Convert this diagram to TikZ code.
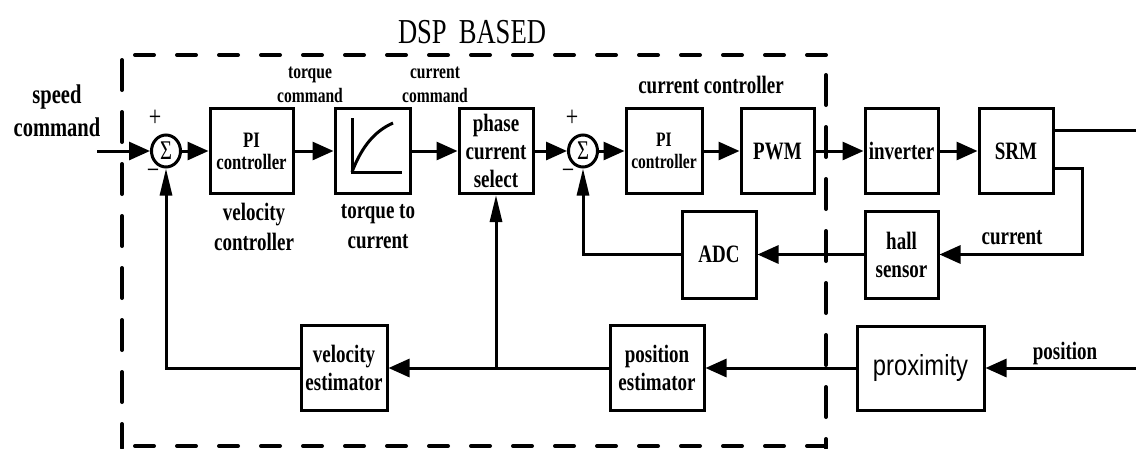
\documentclass[tikz,border=0pt]{standalone}
\usepackage{fontspec}
\setmainfont{Liberation Serif}[FakeStretch=0.76]
\newfontfamily\proxfont{Liberation Sans}[FakeStretch=0.82]
\usetikzlibrary{arrows.meta,shapes.geometric}
\newcommand\myfs[2]{\fontsize{#1}{#2}\selectfont}
\begin{document}
\begin{tikzpicture}[x=1pt,y=-1pt,
  box/.style={draw, line width=3pt, inner sep=0pt, align=center, font=\bfseries\myfs{25}{28}},
  sumnode/.style={draw, ellipse, line width=3pt, minimum width=29pt, minimum height=32pt, inner sep=0pt, font=\myfs{27}{27}},
  lbl/.style={inner sep=0pt, align=center, font=\bfseries\myfs{25}{30}},
  sgn/.style={inner sep=0pt, font=\myfs{29}{29}},
  conn/.style={line width=3pt},
  harr/.style={line width=3pt, -{Triangle[length=21pt,width=18pt]}},
  varr/.style={line width=3pt, -{Triangle[length=27pt,width=12pt]}},
  hdash/.style={line width=4pt, line cap=round, dash pattern=on 19pt off 23pt},
  vdash/.style={line width=4pt, line cap=round, dash pattern=on 30pt off 22pt}]
\useasboundingbox (0,0) rectangle (1136,448);

% dashed DSP region
\draw[hdash] (135,55) -- (826,55);
\draw[hdash] (135,446) -- (826,446);
\draw[vdash] (122,60) -- (122,448);
\draw[vdash] (826,75) -- (826,448);
\node[inner sep=0pt, font=\myfs{35}{35}] (dsp) at (472,32) {DSP\hspace{12pt}BASED};

% top row
\node[sumnode] (sum1) at (166,151) {Σ};
\node[box, minimum width=83pt, minimum height=85pt, font=\bfseries\myfs{22}{22}] (pi1) at (251.5,151) {PI\\controller};
\node[box, minimum width=75pt, minimum height=85pt] (tc) at (372.5,151) {};
\node[box, minimum width=74pt, minimum height=85pt] (pcs) at (496,151) {phase\\current\\select};
\node[sumnode] (sum2) at (583,151) {Σ};
\node[box, minimum width=76pt, minimum height=85pt, font=\bfseries\myfs{20.5}{22}] (pi2) at (664,151) {PI\\controller};
\node[box, minimum width=73pt, minimum height=85pt] (pwm) at (777.5,151) {PWM};
\node[box, minimum width=73pt, minimum height=85pt] (inv) at (901.5,151) {inverter};
\node[box, minimum width=74pt, minimum height=85pt] (srm) at (1016,151) {SRM};

% middle row
\node[box, minimum width=73pt, minimum height=87pt] (hall) at (901.5,254.5) {hall\\sensor};
\node[box, minimum width=74pt, minimum height=87pt] (adc) at (719,254.5) {ADC};

% bottom row
\node[box, minimum width=127pt, minimum height=84pt, font=\proxfont\myfs{29}{29}] (prox) at (920.5,368) {proximity};
\node[box, minimum width=94pt, minimum height=85pt] (posest) at (657,368) {position\\estimator};
\node[box, minimum width=86pt, minimum height=85pt] (velest) at (344,368) {velocity\\estimator};

% torque-to-current curve
\draw[line width=3pt] (352,118) -- (352,172) -- (402,172);
\draw[line width=3pt] (352,172) .. controls (362,146) and (375,131) .. (393,123);

% labels
\node[lbl, font=\bfseries\myfs{27}{33}] (spd) at (57,111) {speed\\command};
\node[sgn] (p1) at (155,118) {+};
\node[sgn] (m1) at (153,174) {−};
\node[sgn] (p2) at (572,118) {+};
\node[sgn] (m2) at (568,174) {−};
\node[lbl, font=\bfseries\myfs{20.5}{24}] (tcmd) at (310,85) {torque\\command};
\node[lbl, font=\bfseries\myfs{20.5}{24}] (ccmd) at (435,85) {current\\command};
\node[lbl] (cctl) at (711,85) {current controller};
\node[lbl] (vctl) at (254,227) {velocity\\controller};
\node[lbl] (ttc) at (378,227) {torque to\\current};
\node[lbl] (curl) at (1012,238) {current};
\node[lbl] (posl) at (1065,353) {position};

% connectors
\coordinate (in) at (97,151);
\draw[harr] (in) -- (sum1);
\draw[harr] (sum1) -- (pi1);
\draw[harr] (pi1) -- (tc);
\draw[harr] (tc) -- (pcs);
\draw[harr] (pcs) -- (sum2);
\draw[harr] (sum2) -- (pi2);
\draw[harr] (pi2) -- (pwm);
\draw[harr] (pwm) -- (inv);
\draw[harr] (inv) -- (srm);

\coordinate (out1) at (1136,130);
\draw[conn] (srm.east |- out1) -- (out1);
\coordinate (c1) at (1082,168);
\draw[harr] (srm.east |- c1) -- (c1) |- (hall);
\draw[harr] (hall) -- (adc);
\draw[varr] (adc.west) -| (sum2);

\coordinate (pin) at (1136,368);
\draw[harr] (pin) -- (prox);
\draw[harr] (prox) -- (posest);
\draw[harr] (posest) -- (velest);
\coordinate (br) at (496,368);
\draw[varr] (br) -- (pcs);
\draw[varr] (velest.west) -| (sum1);
\end{tikzpicture}
\end{document}
